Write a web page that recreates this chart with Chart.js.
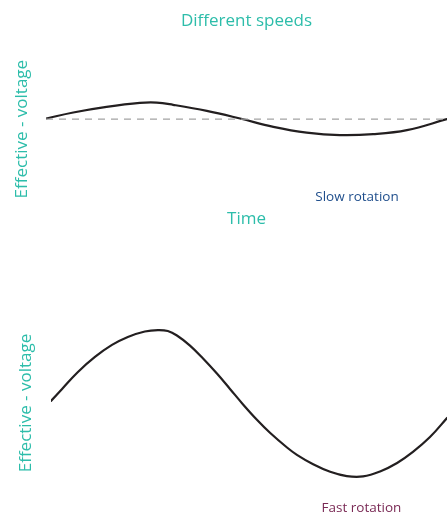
<!DOCTYPE html>
<html>
<head>
<meta charset="utf-8">
<script src="https://cdn.jsdelivr.net/npm/chart.js@4/dist/chart.umd.min.js"></script>
<style>
  html, body { margin: 0; padding: 0; background: #ffffff; }
  #wrap { position: relative; width: 447px; height: 516px; }
  #c1 { position: absolute; left: 0; top: 0; }
  #c2 { position: absolute; left: 0; top: 240px; }
</style>
</head>
<body>
<div id="wrap">
  <canvas id="c1" width="447" height="240"></canvas>
  <canvas id="c2" width="447" height="276"></canvas>
</div>
<script>
// ---- data ----
const chartTitle = "Different speeds";
const yAxisLabel = "Effective - voltage";
const xAxisLabel = "Time";
const slowLabel = "Slow rotation";
const fastLabel = "Fast rotation";

const timeSlow = [0, 0.68, 1.51, 2.34, 2.76, 3.17, 4.01, 4.84, 5.67, 6.50, 7.33, 8.16, 9.0, 10];
const voltageSlow = [0.04, 0.42, 0.77, 1.02, 1.04, 0.90, 0.52, 0.04, -0.48, -0.84, -1.0, -0.94, -0.69, 0.0];
const referenceTime = [0, 10];
const referenceVoltage = [0, 0];

const timeFast = [0, 0.28, 0.68, 1.11, 1.54, 1.94, 2.37, 2.70, 2.95, 3.18, 3.51, 3.84, 4.19, 4.52, 4.85,
                  5.20, 5.53, 5.96, 6.21, 6.62, 7.05, 7.47, 7.88, 8.31, 8.74, 9.14, 9.57, 10.0];
const voltageFast = [0.13, 0.88, 1.94, 2.88, 3.63, 4.13, 4.47, 4.56, 4.5, 4.22, 3.59, 2.78, 1.84, 0.88, -0.09,
                     -1.05, -1.86, -2.78, -3.24, -3.83, -4.30, -4.57, -4.59, -4.28, -3.75, -3.06, -2.13, -0.94];

// ---- styling ----
const TEAL = "#2dbdaa";
const FONT = "'Open Sans', 'Noto Sans', sans-serif";

function pts(xs, ys) { return xs.map((x, i) => ({ x: x, y: ys[i] })); }

const labelPlugin = {
  id: 'cornerLabel',
  afterDraw(chart, args, opts) {
    if (!opts || !opts.text) return;
    const ctx = chart.ctx;
    ctx.save();
    ctx.font = opts.font;
    ctx.fillStyle = opts.color;
    ctx.textAlign = 'center';
    ctx.textBaseline = 'middle';
    ctx.fillText(opts.text, opts.x, opts.y);
    ctx.restore();
  }
};

function baseScales(yMin, yMax, leftTitlePad, showX) {
  return {
    x: {
      type: 'linear', min: 0, max: 10,
      display: showX,
      grid: { display: false, drawTicks: false, tickLength: 0 }, border: { display: false },
      ticks: { display: false, padding: 0 },
      title: { display: showX, text: xAxisLabel, color: TEAL,
               font: { family: FONT, size: 17 }, padding: { top: 11.3, bottom: 10.3 } }
    },
    y: {
      type: 'linear', min: yMin, max: yMax,
      grid: { display: false, drawTicks: false, tickLength: 0 }, border: { display: false },
      ticks: { display: false, padding: 0 },
      title: { display: true, text: yAxisLabel, color: TEAL,
               font: { family: FONT, size: 17 }, padding: leftTitlePad }
    }
  };
}

const curveStyle = { borderColor: '#231f20', borderWidth: 2.2, pointRadius: 0, tension: 0.4,
                     borderCapStyle: 'round', borderJoinStyle: 'round' };

new Chart(document.getElementById('c1'), {
  type: 'line',
  data: {
    datasets: [
      { data: pts(referenceTime, referenceVoltage), borderColor: '#a3a3a3', borderWidth: 1.4,
        borderDash: [7, 6], pointRadius: 0, tension: 0 },
      Object.assign({ data: pts(timeSlow, voltageSlow) }, curveStyle)
    ]
  },
  options: {
    responsive: false, animation: false,
    layout: { padding: { left: 0, right: 0, top: 0, bottom: 0 } },
    scales: baseScales(-4.9375, 3.6875, { top: 11.8, bottom: 13.8 }, true),
    plugins: {
      legend: { display: false }, tooltip: { enabled: false },
      title: { display: true, text: chartTitle, color: TEAL, fullSize: false,
               font: { family: FONT, size: 17, weight: 'normal' }, padding: { top: 11, bottom: 28.9 } },
      cornerLabel: { text: slowLabel, x: 357, y: 197.5, color: '#1f4e8c', font: "13.5px " + FONT }
    }
  },
  plugins: [labelPlugin]
});

new Chart(document.getElementById('c2'), {
  type: 'line',
  data: {
    datasets: [
      Object.assign({ data: pts(timeFast, voltageFast) }, curveStyle)
    ]
  },
  options: {
    responsive: false, animation: false,
    layout: { padding: { left: 0, right: 0, top: 60, bottom: 10 } },
    scales: baseScales(-6.4375, 6.4375, { top: 16.3, bottom: 14.3 }, false),
    plugins: {
      legend: { display: false }, tooltip: { enabled: false },
      cornerLabel: { text: fastLabel, x: 361.5, y: 268, color: '#7a2a55', font: "13.5px " + FONT }
    }
  },
  plugins: [labelPlugin]
});
</script>
</body>
</html>
